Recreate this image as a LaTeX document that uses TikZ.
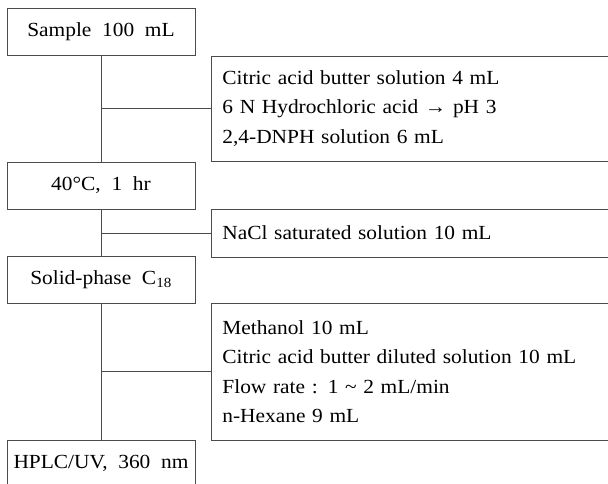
\documentclass[tikz,border=0pt]{standalone}
\usepackage{fontspec}
\setmainfont{Liberation Serif}[FakeStretch=1.07,WordSpace=2]
\usepackage{tikz}

\begin{document}
\begin{tikzpicture}[x=1pt,y=-1pt,font=\fontsize{20}{29.5}\selectfont,
  stepbox/.style={draw=black!70,line width=0.8pt,minimum width=188pt,minimum height=47pt,inner sep=0pt},
  addbox/.style={draw=black!70,line width=0.8pt,anchor=west,minimum width=420pt,text width=398pt,
    inner xsep=11pt,inner ysep=0pt,align=left},
  link/.style={draw=black!70,line width=0.8pt}]
\clip (0,0) rectangle (608,483);
\fill[white] (0,0) rectangle (608,483);

% main steps
\node[stepbox] (sample) at (101,31.5) {Sample 100 mL};
\node[stepbox] (heat) at (101,185.5) {40°C, 1 hr};
\node[stepbox] (spe) at (101,280) {Solid-phase C\textsubscript{18}};
\node[stepbox] (hplc) at (101,463.5) {HPLC/UV, 360 nm};

% reagents added at each step
\node[addbox,minimum height=105pt] (add1) at (211,108.5) {Citric acid butter solution 4 mL\\
  6 N Hydrochloric acid → pH 3\\
  2,4-DNPH solution 6 mL};
\node[addbox,minimum height=48pt] (add2) at (211,233) {NaCl saturated solution 10 mL};
\node[addbox,minimum height=137pt] (add3) at (211,371.5) {Methanol 10 mL\\
  Citric acid butter diluted solution 10 mL\\
  Flow rate : 1 \textasciitilde{} 2 mL/min\\
  n-Hexane 9 mL};

\draw[link] (sample) -- (heat);
\draw[link] (heat) -- (spe);
\draw[link] (spe) -- (hplc);
\draw[link] (add1.west) -- (add1.west -| sample.south);
\draw[link] (add2.west) -- (add2.west -| heat.south);
\draw[link] (add3.west) -- (add3.west -| spe.south);
\end{tikzpicture}
\end{document}
